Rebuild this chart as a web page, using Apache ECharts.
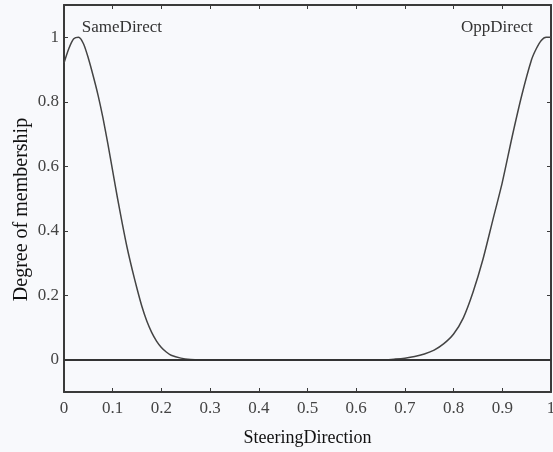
<!DOCTYPE html>
<html>
<head>
<meta charset="utf-8">
<script src="https://cdn.jsdelivr.net/npm/echarts@6/dist/echarts.min.js"></script>
<style>
  html, body { margin: 0; padding: 0; background: #f8f9fc; }
  #chart { width: 553px; height: 452px; }
</style>
</head>
<body>
<div id="chart"></div>
<script>
// Membership functions over the steering direction domain [0, 1]
const sameX = [0, 0.01, 0.02, 0.03, 0.04, 0.05, 0.06, 0.07, 0.08, 0.09, 0.10, 0.11, 0.12, 0.13, 0.14,
               0.15, 0.16, 0.17, 0.18, 0.19, 0.20, 0.21, 0.22, 0.24, 0.26, 0.28, 1.0];
const sameY = [0.92, 0.965, 0.995, 1.0, 0.98, 0.935, 0.88, 0.82, 0.75, 0.67, 0.585, 0.50, 0.42, 0.345, 0.28,
               0.22, 0.165, 0.12, 0.085, 0.058, 0.038, 0.024, 0.014, 0.005, 0.001, 0, 0];

const oppX = [0, 0.66, 0.68, 0.70, 0.72, 0.74, 0.76, 0.78, 0.80, 0.82, 0.84, 0.86, 0.88, 0.90,
              0.92, 0.94, 0.96, 0.97, 0.98, 0.99, 1.0];
const oppY = [0, 0, 0.002, 0.005, 0.01, 0.018, 0.03, 0.05, 0.08, 0.13, 0.21, 0.31, 0.43, 0.55,
              0.69, 0.82, 0.93, 0.965, 0.99, 1.0, 1.0];

const yTicks = [0, 0.2, 0.4, 0.6, 0.8, 1];
const xTicks = [0, 0.1, 0.2, 0.3, 0.4, 0.5, 0.6, 0.7, 0.8, 0.9, 1];

// Curve labels, placed in data coordinates
const curveNames = ['SameDirect', 'OppDirect'];
const labelAt = [[0.119, 1.03], [0.889, 1.03]];

const pairs = (xs, ys) => xs.map((x, i) => [x, ys[i]]);

const ink = '#3a3a3a';
const serif = '"Liberation Serif", "Times New Roman", serif';

const frameLine = { show: true, onZero: false, lineStyle: { color: ink, width: 2 } };
const innerTick = (vals) => ({ show: true, inside: true, length: 4, customValues: vals, lineStyle: { color: ink, width: 1 } });

const chart = echarts.init(document.getElementById('chart'), null, { renderer: 'canvas' });

chart.setOption({
  backgroundColor: '#f8f9fc',
  animation: false,
  grid: { left: 64, right: 2, top: 5, bottom: 60, containLabel: false, outerBoundsMode: 'none' },
  xAxis: [
    {
      type: 'value', min: 0, max: 1, position: 'bottom',
      name: 'SteeringDirection', nameLocation: 'middle', nameGap: 37,
      nameTextStyle: { fontFamily: serif, fontSize: 18, color: '#111' },
      axisLine: frameLine,
      axisTick: innerTick(xTicks),
      axisLabel: { customValues: xTicks, fontFamily: serif, fontSize: 17, color: '#444', margin: 8 },
      splitLine: { show: false }
    },
    {
      type: 'value', min: 0, max: 1, position: 'top',
      axisLine: frameLine,
      axisTick: innerTick(xTicks),
      axisLabel: { show: false },
      splitLine: { show: false }
    }
  ],
  yAxis: [
    {
      type: 'value', min: -0.1, max: 1.1, position: 'left',
      name: 'Degree of membership', nameLocation: 'middle', nameGap: 32, nameRotate: 90,
      nameMoveOverlap: false,
      nameTextStyle: { fontFamily: serif, fontSize: 20, color: '#111', padding: [0, 22, 0, 0] },
      axisLine: frameLine,
      axisTick: innerTick(yTicks),
      axisLabel: { customValues: yTicks, fontFamily: serif, fontSize: 17, color: '#444', margin: 5 },
      splitLine: { show: false }
    },
    {
      type: 'value', min: -0.1, max: 1.1, position: 'right',
      axisLine: frameLine,
      axisTick: innerTick(yTicks),
      axisLabel: { show: false },
      splitLine: { show: false }
    }
  ],
  series: [
    {
      name: curveNames[0], type: 'line', data: pairs(sameX, sameY),
      smooth: 0.25, showSymbol: false,
      lineStyle: { color: '#444', width: 1.5 },
      markLine: {
        silent: true, symbol: 'none', label: { show: false },
        lineStyle: { color: '#333', width: 1.8, type: 'solid' },
        data: [{ yAxis: 0 }]
      },
      markPoint: {
        symbol: 'circle', symbolSize: 0,
        label: { show: true, formatter: curveNames[0], fontFamily: serif, fontSize: 17, color: '#333' },
        data: [{ coord: labelAt[0] }]
      }
    },
    {
      name: curveNames[1], type: 'line', data: pairs(oppX, oppY),
      smooth: 0.25, showSymbol: false,
      lineStyle: { color: '#444', width: 1.5 },
      markPoint: {
        symbol: 'circle', symbolSize: 0,
        label: { show: true, formatter: curveNames[1], fontFamily: serif, fontSize: 17, color: '#333' },
        data: [{ coord: labelAt[1] }]
      }
    }
  ]
});
</script>
</body>
</html>
